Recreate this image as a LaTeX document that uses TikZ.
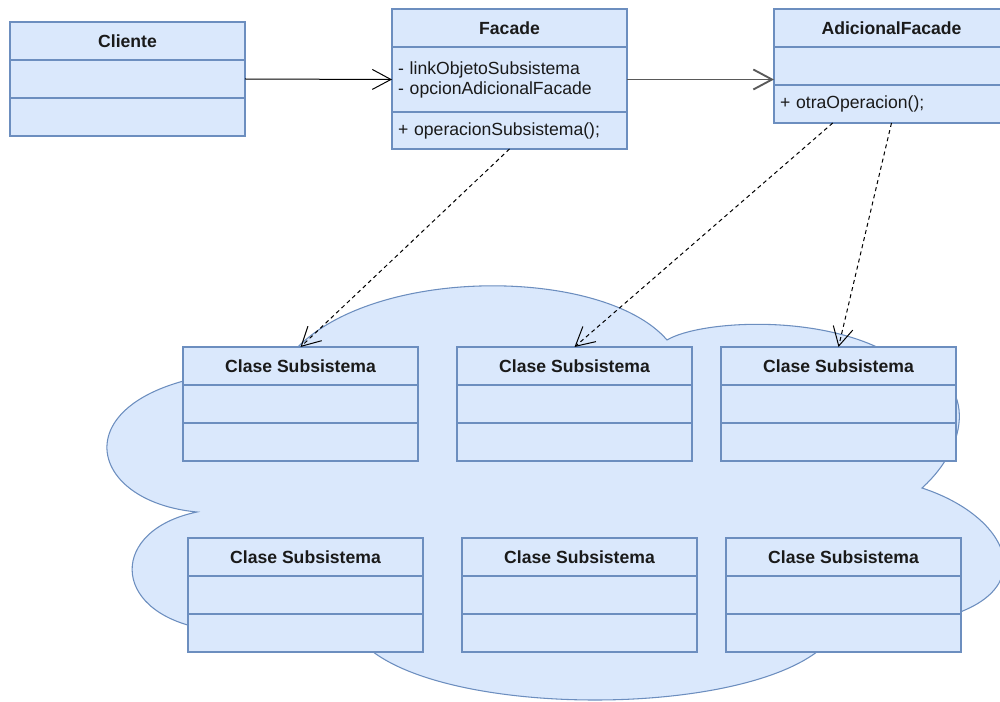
\documentclass[tikz,border=0pt]{standalone}
\usepackage{fontspec}
\setmainfont{Liberation Sans}
\usetikzlibrary{arrows.meta,positioning,calc}
\definecolor{umlfill}{HTML}{DAE8FC}
\definecolor{umlline}{HTML}{6C8EBF}
\definecolor{umltext}{HTML}{1A1A1A}

\begin{document}
\begin{tikzpicture}[x=0.75pt,y=-0.75pt,
  cell/.style={draw=umlline,fill=umlfill,line width=0.9pt,minimum width=176.25pt,minimum height=28.5pt,
    inner sep=0pt,outer sep=0pt,anchor=north west,text=umltext,font=\fontsize{13.2}{15}\selectfont},
  clshead/.style={cell,font=\fontsize{13.2}{15}\selectfont\bfseries},
  members/.style={cell,inner xsep=4.5pt,text width=167.25pt,align=left},
  uses/.style={-{Straight Barb[length=14pt,width=15pt]},line width=0.75pt},
  dep/.style={uses,dash pattern=on 3pt off 2.5pt},
  cloud/.style={draw=umlline,fill=umlfill,line width=0.8pt}]
\useasboundingbox (0,0) rectangle (1000,702);
\clip (0,0) rectangle (1000,702);

% nube del subsistema
\draw[cloud] (197,512)
  .. controls (70,500) and (60,370) .. (280,370)
  .. controls (340,265) and (600,262) .. (667,340)
  .. controls (700,320) and (830,312) .. (900,360)
  .. controls (975,370) and (975,440) .. (922,488)
  .. controls (1020,520) and (1050,610) .. (900,625)
  -- (830,640)
  .. controls (760,720) and (430,720) .. (360,640)
  -- (200,628)
  .. controls (110,610) and (110,530) .. (197,512) -- cycle;

% Cliente
\node[clshead] (cli) at (10,22) {Cliente};
\node[cell,below=0pt of cli] (cli-a) {};
\node[cell,below=0pt of cli-a] (cli-m) {};

% Facade
\node[clshead] (fac) at (392,9) {Facade};
\node[members,below=0pt of fac,minimum height=48.75pt] (fac-a) {- linkObjetoSubsistema\\- opcionAdicionalFacade};
\node[members,below=0pt of fac-a,minimum height=27.75pt] (fac-m) {+ operacionSubsistema();};

% AdicionalFacade
\node[clshead] (adi) at (774,9) {AdicionalFacade};
\node[cell,below=0pt of adi] (adi-a) {};
\node[members,below=0pt of adi-a] (adi-m) {+ otraOperacion();};

% clases del subsistema
\foreach \x/\y/\n in {183/347/1,457/347/2,721/347/3,188/538/4,462/538/5,726/538/6} {
  \node[clshead] (sub\n) at (\x,\y) {Clase Subsistema};
  \node[cell,below=0pt of sub\n] (sub\n-a) {};
  \node[cell,below=0pt of sub\n-a] (sub\n-m) {};
}

% relaciones
\draw[uses] (cli-a.east) -- (fac-a.west);
\draw[uses,draw=black!65,line width=1.4pt] (fac-a.east) -- (fac-a.east -| adi-a.west);
\coordinate (adi-l) at ($(adi-m.south west)!0.25!(adi-m.south east)$);
\draw[dep] (fac-m.south) -- (sub1.north);
\draw[dep] (adi-l) -- (sub2.north);
\draw[dep] (adi-m.south) -- (sub3.north);
\end{tikzpicture}
\end{document}
